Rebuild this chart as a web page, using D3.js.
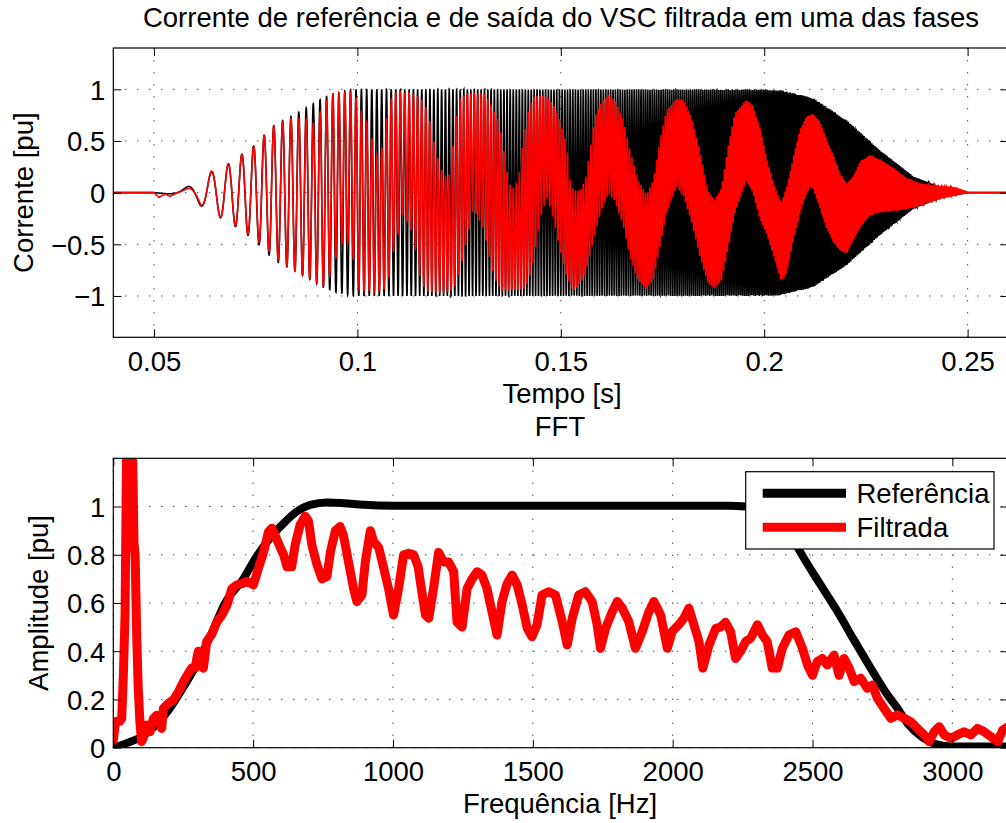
<!DOCTYPE html>
<html>
<head>
    <meta charset="utf-8">
    <title>Corrente de referência e FFT</title>
    <script src="https://cdn.jsdelivr.net/npm/d3@7"></script>
    <style>
        * {
            margin: 0;
            padding: 0;
        }

        body {
            background: #fff;
        }

        svg text {
            font-family: "Liberation Sans", Arial, Helvetica, sans-serif;
            fill: #000;
        }
    </style>
</head>
<body>
    <div id="chart"></div>

    <script>
        // ---- values ----
        var timeTicks = [0.05, 0.1, 0.15, 0.2, 0.25];
        var currentTicks = [-1, -0.5, 0, 0.5, 1];
        var freqTicks = [0, 500, 1000, 1500, 2000, 2500, 3000];
        var ampTicks = [0, 0.2, 0.4, 0.6, 0.8, 1];

        // the current is a linear sweep: start time [s] and rate [Hz/s], from the cycle spacing
        var sweepStart = 0.05;
        var sweepRate = 15000;

        // envelope of the reference current (black)
        var refEnvT = [0.04, 0.05, 0.0555, 0.0575, 0.0605, 0.0636, 0.0681, 0.0717, 0.0746, 0.0772,
            0.0796, 0.0818, 0.0839, 0.0861, 0.0883, 0.0904, 0.0929, 0.0949, 0.0970, 0.0993,
            0.2000, 0.2039, 0.2121, 0.2203, 0.2285, 0.2367, 0.2449, 0.2503, 0.2600];
        var refEnvA = [0, 0, 0.02, 0.045, 0.095, 0.19, 0.275, 0.375, 0.455, 0.56,
            0.655, 0.70, 0.74, 0.79, 0.84, 0.89, 0.94, 0.965, 0.985, 1,
            1, 0.995, 0.915, 0.70, 0.41, 0.155, 0.03, 0, 0];

        // upper / lower envelope of the filtered current (red)
        var filtEnvT = [0.04, 0.0500, 0.0512, 0.0528, 0.0540, 0.0556, 0.0580, 0.0605, 0.0636, 0.0681,
            0.0717, 0.0746, 0.0772, 0.0796, 0.0839, 0.0870, 0.0896, 0.0915, 0.0927, 0.0935,
            0.0962, 0.0982, 0.0995, 0.1002, 0.1015, 0.1027, 0.1039, 0.1051, 0.1064, 0.1076,
            0.1090, 0.1112, 0.1137, 0.1153, 0.1165, 0.1174, 0.1187, 0.1203, 0.1215, 0.1228,
            0.1240, 0.1252, 0.1269, 0.1285, 0.1310, 0.1318, 0.1326, 0.1334, 0.1343, 0.1355,
            0.1367, 0.1375, 0.1384, 0.1396, 0.1408, 0.1421, 0.1433, 0.1449, 0.1466, 0.1482,
            0.1498, 0.1515, 0.1523, 0.1531, 0.1547, 0.1560, 0.1572, 0.1584, 0.1601, 0.1617,
            0.1633, 0.1654, 0.1670, 0.1690, 0.1711, 0.1727, 0.1744, 0.1760, 0.1785, 0.1801,
            0.1821, 0.1842, 0.1862, 0.1878, 0.1895, 0.1911, 0.1928, 0.1956, 0.1972, 0.1989,
            0.2005, 0.2026, 0.2042, 0.2055, 0.2072, 0.2088, 0.2104, 0.2113, 0.2121, 0.2137,
            0.2154, 0.2170, 0.2186, 0.2203, 0.2219, 0.2236, 0.2260, 0.2285, 0.2318, 0.2351,
            0.2384, 0.2416, 0.2449, 0.2482, 0.2503, 0.2600];
        var filtEnvUp = [0, 0, 0, 0, 0, 0.02, 0.035, 0.07, 0.20, 0.27,
            0.37, 0.45, 0.56, 0.65, 0.72, 0.72, 0.66, 0.84, 0.90, 0.95,
            0.97, 0.97, 0.93, 0.85, 0.74, 0.65, 0.46, 0.33, 0.49, 0.85,
            0.97, 0.97, 0.96, 0.93, 0.86, 0.78, 0.51, 0.25, 0.155, 0.17,
            0.66, 0.91, 0.96, 0.96, 0.96, 0.93, 0.87, 0.80, 0.74, 0.54,
            0.22, 0.075, 0.045, 0.12, 0.51, 0.80, 0.93, 0.94, 0.93, 0.85,
            0.70, 0.45, 0.12, 0.02, 0.02, 0.12, 0.41, 0.74, 0.88, 0.94,
            0.90, 0.70, 0.41, 0.12, -0.02, 0.12, 0.51, 0.80, 0.905, 0.90,
            0.74, 0.41, 0.02, -0.07, 0.05, 0.44, 0.77, 0.90, 0.85, 0.64,
            0.35, 0.045, -0.10, 0.05, 0.35, 0.61, 0.74, 0.75, 0.76, 0.69,
            0.51, 0.365, 0.19, 0.09, 0.16, 0.30, 0.365, 0.32, 0.24, 0.14,
            0.09, 0.07, 0.06, 0.03, 0, 0];
        var filtEnvLo = [0, 0, -0.045, -0.015, -0.04, -0.02, -0.05, -0.07, -0.20, -0.27,
            -0.36, -0.44, -0.52, -0.62, -0.74, -0.80, -0.86, -0.90, -0.90, -0.75,
            -0.49, -0.49, -0.75, -0.94, -0.95, -0.95, -0.95, -0.96, -0.95, -0.85,
            -0.55, -0.20, -0.40, -0.80, -0.93, -0.96, -0.96, -0.96, -0.96, -0.96,
            -0.90, -0.75, -0.46, -0.15, -0.35, -0.49, -0.65, -0.78, -0.88, -0.94,
            -0.94, -0.94, -0.94, -0.94, -0.94, -0.85, -0.65, -0.26, -0.04, -0.26,
            -0.55, -0.82, -0.88, -0.95, -0.88, -0.78, -0.60, -0.40, -0.16, -0.01,
            -0.08, -0.33, -0.62, -0.85, -0.93, -0.85, -0.52, -0.20, 0.06, -0.03,
            -0.28, -0.62, -0.88, -0.93, -0.85, -0.55, -0.20, 0.11, 0.0, -0.25,
            -0.39, -0.65, -0.86, -0.78, -0.46, -0.20, -0.02, 0.06, 0.03, -0.15,
            -0.35, -0.48, -0.56, -0.59, -0.46, -0.34, -0.22, -0.19, -0.175, -0.16,
            -0.12, -0.08, -0.04, -0.01, 0, 0];

        // FFT of the reference
        var fftRefF = [0, 50, 100, 150, 200, 250, 300, 350, 400, 465, 500, 561, 609, 656, 704, 764, 823, 895,
            1000, 2200, 2260, 2334, 2380, 2429, 2452, 2529, 2589, 2648, 2708, 2768, 2804, 2840, 2890, 2940,
            3000, 3200];
        var fftRefA = [0, 0.02, 0.045, 0.09, 0.16, 0.25, 0.35, 0.47, 0.60, 0.70, 0.77, 0.87, 0.93, 0.979, 1.007,
            1.017, 1.014, 1.007, 1.003, 1.003, 1.0, 0.975, 0.93, 0.87, 0.82, 0.675, 0.565, 0.447, 0.33, 0.219,
            0.163, 0.10, 0.045, 0.015, 0.005, 0.005];

        // FFT of the filtered current
        var fftFiltF = [0, 6, 12, 24, 30, 36, 42, 48, 55, 62, 68, 74, 78, 84, 89, 95, 101, 107, 119, 131,
            143, 155, 167, 173, 179, 197, 215, 233, 251, 268, 280, 292, 304, 322, 334, 352, 370, 388, 406, 424,
            442, 460, 477, 501, 519, 537, 555, 567, 579, 597, 609, 621, 638, 650, 668, 686, 698, 710, 728, 746,
            764, 776, 794, 811, 823, 841, 859, 871, 889, 901, 919, 931, 949, 967, 984, 1002, 1020, 1038, 1056, 1074,
            1090, 1104, 1116, 1128, 1145, 1163, 1181, 1199, 1217, 1229, 1247, 1265, 1283, 1301, 1318, 1336, 1354, 1372, 1390, 1408,
            1426, 1444, 1462, 1480, 1497, 1515, 1533, 1557, 1581, 1605, 1623, 1641, 1664, 1688, 1712, 1730, 1742, 1760, 1784, 1802,
            1820, 1843, 1867, 1891, 1915, 1933, 1957, 1981, 1998, 2022, 2040, 2058, 2076, 2094, 2108, 2130, 2154, 2171, 2189, 2207,
            2225, 2243, 2261, 2279, 2303, 2321, 2338, 2356, 2374, 2392, 2416, 2440, 2464, 2482, 2500, 2517, 2535, 2553, 2577, 2595,
            2613, 2631, 2649, 2672, 2696, 2714, 2732, 2756, 2780, 2804, 2828, 2851, 2875, 2899, 2917, 2935, 2953, 2971, 2995, 3018,
            3042, 3066, 3090, 3114, 3138, 3162, 3180, 3200];
        var fftFiltA = [0.03, 0.09, 0.11, 0.11, 0.12, 0.30, 0.55, 1.3, 1.9, 1.6, 1.3, 0.85, 0.80, 0.45, 0.25, 0.11, 0.025, 0.04, 0.094, 0.066,
            0.12, 0.135, 0.10, 0.08, 0.163, 0.184, 0.198, 0.232, 0.274, 0.308, 0.33, 0.33, 0.40, 0.33, 0.44, 0.47, 0.52, 0.55, 0.59, 0.66,
            0.675, 0.68, 0.69, 0.675, 0.744, 0.81, 0.896, 0.91, 0.88, 0.83, 0.80, 0.75, 0.75, 0.84, 0.924, 0.96, 0.94, 0.84, 0.76, 0.70,
            0.71, 0.81, 0.90, 0.917, 0.88, 0.77, 0.66, 0.606, 0.634, 0.77, 0.90, 0.855, 0.83, 0.744, 0.66, 0.55, 0.66, 0.80, 0.806, 0.80,
            0.75, 0.64, 0.55, 0.537, 0.66, 0.81, 0.77, 0.77, 0.73, 0.52, 0.50, 0.66, 0.70, 0.73, 0.716, 0.66, 0.564, 0.467, 0.606, 0.68,
            0.716, 0.675, 0.592, 0.495, 0.46, 0.51, 0.633, 0.647, 0.633, 0.523, 0.426, 0.537, 0.633, 0.647, 0.606, 0.51, 0.412, 0.495, 0.564, 0.606,
            0.578, 0.523, 0.412, 0.481, 0.564, 0.606, 0.55, 0.412, 0.481, 0.51, 0.537, 0.578, 0.51, 0.44, 0.33, 0.426, 0.495, 0.50, 0.52, 0.481,
            0.37, 0.40, 0.44, 0.454, 0.51, 0.467, 0.44, 0.33, 0.33, 0.412, 0.467, 0.481, 0.412, 0.343, 0.30, 0.357, 0.37, 0.343, 0.384, 0.30,
            0.37, 0.33, 0.274, 0.288, 0.246, 0.26, 0.205, 0.163, 0.122, 0.136, 0.122, 0.108, 0.08, 0.053, 0.025, 0.066, 0.087, 0.053, 0.039, 0.053,
            0.066, 0.053, 0.08, 0.066, 0.046, 0.025, 0.073, 0.087];

        var legendNames = ["Referência", "Filtrada"];
        var seriesColors = ["#000000", "#ff0000"];

        // ---- layout ----
        var W = 1006, H = 823;
        var left = 113.3, right = 1008.3;
        var top1 = 48, bot1 = 337.3, top2 = 458.3, bot2 = 747.7;
        var fontPx = "27.5px";

        var svg = d3.select("#chart")
            .append("svg")
            .attr("width", W)
            .attr("height", H);

        var x1 = d3.scaleLinear().domain([0.04, 0.26]).range([left, right]);
        var y1 = d3.scaleLinear().domain([-1.4, 1.4]).range([bot1, top1]);
        var x2 = d3.scaleLinear().domain([0, 3200]).range([left, right]);
        var y2 = d3.scaleLinear().domain([0, 1.2]).range([bot2, top2]);

        function fmtNum(d) {
            return (d < 0 ? "\u2212" : "") + String(Math.abs(d));
        }

        // grid + clip for one set of axes
        function frame(id, x, y, xt, yt) {
            var g = svg.append("g");
            var x0 = x.range()[0], xe = x.range()[1];
            var yb = y.range()[0], ytop = y.range()[1];

            svg.append("clipPath").attr("id", id)
                .append("rect")
                .attr("x", x0).attr("y", ytop)
                .attr("width", xe - x0).attr("height", yb - ytop);

            g.selectAll(".gx").data(xt).enter().append("line")
                .attr("x1", function (d) { return x(d); })
                .attr("x2", function (d) { return x(d); })
                .attr("y1", yb).attr("y2", ytop)
                .attr("stroke", "#000").attr("stroke-width", 1)
                .attr("stroke-dasharray", "1,11");
            g.selectAll(".gy").data(yt).enter().append("line")
                .attr("y1", function (d) { return y(d); })
                .attr("y2", function (d) { return y(d); })
                .attr("x1", x0).attr("x2", xe)
                .attr("stroke", "#000").attr("stroke-width", 1)
                .attr("stroke-dasharray", "1,11");
            return svg.append("g").attr("clip-path", "url(#" + id + ")");
        }

        function axes(x, y, xt, yt) {
            var yb = y.range()[0], ytop = y.range()[1];
            var x0 = x.range()[0], xe = x.range()[1];

            var ax = [
                svg.append("g").attr("transform", "translate(0," + yb + ")")
                    .call(d3.axisBottom(x).tickValues(xt).tickSize(-8).tickPadding(14).tickFormat(fmtNum)),
                svg.append("g").attr("transform", "translate(0," + ytop + ")")
                    .call(d3.axisTop(x).tickValues(xt).tickSize(-8).tickFormat("")),
                svg.append("g").attr("transform", "translate(" + x0 + ",0)")
                    .call(d3.axisLeft(y).tickValues(yt).tickSize(-8).tickPadding(8).tickFormat(fmtNum)),
                svg.append("g").attr("transform", "translate(" + xe + ",0)")
                    .call(d3.axisRight(y).tickValues(yt).tickSize(-8).tickFormat(""))
            ];
            ax.forEach(function (a) {
                a.select(".domain").remove();
                a.selectAll("line").attr("stroke", "#000").attr("stroke-width", 1);
                a.selectAll("text").attr("font-size", fontPx)
                    .attr("font-family", "Liberation Sans, Arial, sans-serif").attr("fill", "#000");
            });
            ax[2].selectAll("text").attr("dy", "0.36em");

            svg.append("rect")
                .attr("x", x0).attr("y", ytop)
                .attr("width", xe - x0).attr("height", yb - ytop)
                .attr("fill", "none").attr("stroke", "#000").attr("stroke-width", 1.2);
        }

        // ---- top: time signals ----
        var env = d3.scaleLinear().domain(refEnvT).range(refEnvA).clamp(true);
        var envUp = d3.scaleLinear().domain(filtEnvT).range(filtEnvUp).clamp(true);
        var envLo = d3.scaleLinear().domain(filtEnvT).range(filtEnvLo).clamp(true);

        var refSig = [], filtSig = [];
        var dt = 1 / 48000;
        for (var i = 0; ; i++) {
            var t = 0.04 + i * dt;
            if (t > 0.26) break;
            var tau = Math.max(0, t - sweepStart);
            var c = -Math.cos(Math.PI * sweepRate * tau * tau);
            var u = envUp(t), l = envLo(t);
            refSig.push([t, env(t) * c]);
            filtSig.push([t, (u + l) / 2 + (u - l) / 2 * c]);
        }

        var plot1 = frame("clip1", x1, y1, timeTicks, currentTicks);
        var line1 = d3.line()
            .x(function (d) { return x1(d[0]); })
            .y(function (d) { return y1(d[1]); });

        plot1.append("path").datum(refSig)
            .attr("d", line1).attr("fill", "none")
            .attr("stroke", seriesColors[0]).attr("stroke-width", 1.6);
        plot1.append("path").datum(filtSig)
            .attr("d", line1).attr("fill", "none")
            .attr("stroke", seriesColors[1]).attr("stroke-width", 1.6);

        axes(x1, y1, timeTicks, currentTicks);

        // ---- bottom: FFT ----
        var plot2 = frame("clip2", x2, y2, freqTicks, ampTicks);

        var refSpec = fftRefF.map(function (f, i) { return [f, fftRefA[i]]; });
        var filtSpec = fftFiltF.map(function (f, i) { return [f, fftFiltA[i]]; });

        plot2.append("path").datum(refSpec)
            .attr("d", d3.line()
                .x(function (d) { return x2(d[0]); })
                .y(function (d) { return y2(d[1]); })
                .curve(d3.curveMonotoneX))
            .attr("fill", "none").attr("stroke", seriesColors[0])
            .attr("stroke-width", 8).attr("stroke-linejoin", "round");
        plot2.append("path").datum(filtSpec)
            .attr("d", d3.line()
                .x(function (d) { return x2(d[0]); })
                .y(function (d) { return y2(d[1]); }))
            .attr("fill", "none").attr("stroke", seriesColors[1])
            .attr("stroke-width", 9).attr("stroke-linejoin", "round").attr("stroke-linecap", "round");

        axes(x2, y2, freqTicks, ampTicks);

        // legend
        var lg = svg.append("g");
        lg.append("rect")
            .attr("x", 745.7).attr("y", 471.7).attr("width", 248.3).attr("height", 77.3)
            .attr("fill", "#fff").attr("stroke", "#000").attr("stroke-width", 1.2);
        legendNames.forEach(function (name, i) {
            var yy = 493.3 + i * 34;
            lg.append("line")
                .attr("x1", 762.7).attr("x2", 846).attr("y1", yy).attr("y2", yy)
                .attr("stroke", seriesColors[i]).attr("stroke-width", 9);
            lg.append("text")
                .attr("x", 856.5).attr("y", yy + 9.8)
                .attr("font-size", fontPx)
                .text(name);
        });

        // titles and labels
        svg.append("text")
            .attr("x", 561).attr("y", 26.5).attr("text-anchor", "middle")
            .attr("font-size", fontPx)
            .text("Corrente de referência e de saída do VSC filtrada em uma das fases");
        svg.append("text")
            .attr("x", 562).attr("y", 403).attr("text-anchor", "middle")
            .attr("font-size", fontPx)
            .text("Tempo [s]");
        svg.append("text")
            .attr("transform", "translate(33," + ((top1 + bot1) / 2) + ") rotate(-90)")
            .attr("text-anchor", "middle")
            .attr("font-size", fontPx)
            .text("Corrente [pu]");

        svg.append("text")
            .attr("x", 560).attr("y", 436).attr("text-anchor", "middle")
            .attr("font-size", fontPx)
            .text("FFT");
        svg.append("text")
            .attr("x", 560).attr("y", 813).attr("text-anchor", "middle")
            .attr("font-size", fontPx)
            .text("Frequência [Hz]");
        svg.append("text")
            .attr("transform", "translate(48," + ((top2 + bot2) / 2) + ") rotate(-90)")
            .attr("text-anchor", "middle")
            .attr("font-size", fontPx)
            .text("Amplitude [pu]");
    </script>
</body>
</html>
